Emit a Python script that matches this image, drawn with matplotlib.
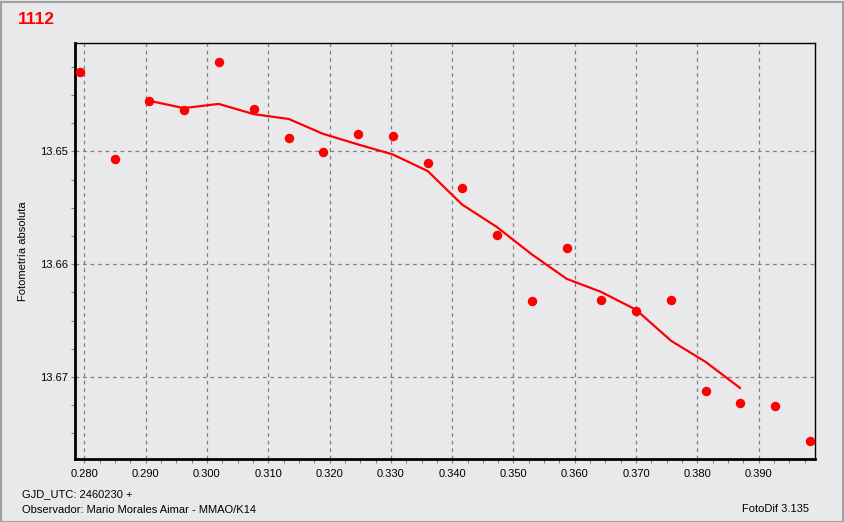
import matplotlib
matplotlib.use("Agg")
import matplotlib.pyplot as plt
from matplotlib.ticker import MultipleLocator, FormatStrFormatter
from matplotlib.patches import Rectangle
import pandas as pd

# Data
jd = [0.27925, 0.28496, 0.29055, 0.29621, 0.30192, 0.30763, 0.31334, 0.31888,
      0.32464, 0.33030, 0.33601, 0.34161, 0.34726, 0.35297, 0.35868, 0.36423,
      0.36999, 0.37570, 0.38135, 0.38695, 0.39266, 0.39832]
mag = [13.64297, 13.65068, 13.64552, 13.64631, 13.64209, 13.64625, 13.64882, 13.65006,
       13.64844, 13.64862, 13.65101, 13.65325, 13.65742, 13.66327, 13.65854, 13.66315,
       13.66413, 13.66315, 13.67124, 13.67228, 13.67254, 13.67565]

title = "1112"
ylabel = "Fotometría absoluta"
footer_left1 = "GJD_UTC: 2460230 +"
footer_left2 = "Observador: Mario Morales Aimar - MMAO/K14"
footer_right = "FotoDif 3.135"

# centered 5-point moving average (as drawn in the chart)
smooth = pd.Series(mag).rolling(5, center=True).mean()

bg = "#E9E9EB"
plt.rcParams['font.family'] = ['Liberation Sans', 'DejaVu Sans']

fig = plt.figure(figsize=(8.44, 5.22), dpi=100, facecolor=bg)
ax = fig.add_axes([75/844, 1-459/522, 740/844, 416/522])
ax.set_facecolor(bg)

ax.plot(jd, smooth, color="#FF0000", lw=1.6, zorder=3)
ax.plot(jd, mag, 'o', color="#FF0000", ms=5.8, mec="#FF0000", zorder=4, linestyle='none')

ax.set_xlim(0.27848, 0.39918)
ax.set_ylim(13.67727, 13.64040)

ax.xaxis.set_major_locator(MultipleLocator(0.01))
ax.xaxis.set_minor_locator(MultipleLocator(0.0025))
ax.yaxis.set_major_locator(MultipleLocator(0.01))
ax.yaxis.set_minor_locator(MultipleLocator(0.0025))
ax.xaxis.set_major_formatter(FormatStrFormatter('%.3f'))
ax.yaxis.set_major_formatter(FormatStrFormatter('%.2f'))

ax.grid(True, which='major', color='#808080', linestyle=(0, (3, 3)), linewidth=0.9)
ax.tick_params(which='both', direction='out', color='#808080', length=3, width=0.8,
               labelsize=8, labelcolor='#000000')
ax.tick_params(axis='x', which='both', pad=4.5)
ax.tick_params(axis='y', which='both', pad=2)

for s in ['left', 'bottom']:
    ax.spines[s].set_linewidth(2)
for s in ['top', 'right']:
    ax.spines[s].set_linewidth(1)
for s in ax.spines.values():
    s.set_color('black')

ax.set_ylabel(ylabel, fontsize=8)
ax.yaxis.set_label_coords(-47/740, 0.5)

fig.text(18/844, 1-19/522, title, color="#FF0000", fontsize=12.5, fontweight='bold',
         ha='left', va='center')
fig.text(22/844, 1-494/522, footer_left1, fontsize=8, ha='left', va='center')
fig.text(22/844, 1-510/522, footer_left2, fontsize=8, ha='left', va='center')
fig.text(809/844, 1-509/522, footer_right, fontsize=8, ha='right', va='center')

fig.patches.append(Rectangle((0.5/844, 0.5/522), 1-2/844, 1-2/522, transform=fig.transFigure,
                             fill=False, edgecolor='#A0A0A0', linewidth=1.5))

fig.savefig("out.png", dpi=100, facecolor=bg)
